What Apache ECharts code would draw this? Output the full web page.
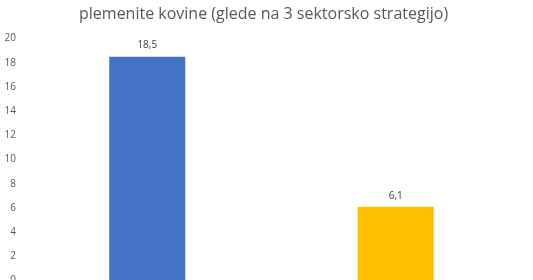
<!DOCTYPE html>
<html><head><meta charset="utf-8">
<script src="https://cdn.jsdelivr.net/npm/echarts@6/dist/echarts.min.js"></script>
<style>html,body{margin:0;padding:0;background:#fff}#c{width:533px;height:280px}</style>
</head><body><div id="c"></div>
<script>
var titleText = 'plemenite kovine (glede na 3 sektorsko strategijo)';
var categories = ['A', 'B'];
var values = [18.5, 6.1];
var colors = ['#4472C4', '#FFC000'];
var yMin = 0, yMax = 20, yStep = 2;

var chart = echarts.init(document.getElementById('c'), null, {renderer: 'canvas'});
chart.setOption({
  animation: false,
  title: {
    text: titleText, left: 74, top: 1,
    textStyle: {fontFamily: 'Open Sans', fontSize: 16, fontWeight: 'normal', color: '#595959'}
  },
  grid: {left: 23, right: 13, top: 38.5, bottom: -0.5, containLabel: false, outerBoundsMode: 'none'},
  xAxis: {
    type: 'category', data: categories,
    axisLine: {show: false}, axisTick: {show: false}, axisLabel: {show: false}, splitLine: {show: false}
  },
  yAxis: {
    type: 'value', min: yMin, max: yMax, interval: yStep,
    axisLine: {show: false}, axisTick: {show: false}, splitLine: {show: false},
    axisLabel: {margin: 7, fontFamily: 'Open Sans', fontSize: 10, color: '#595959'}
  },
  series: [{
    type: 'bar', barWidth: 76,
    data: values.map(function (v, i) { return {value: v, itemStyle: {color: colors[i]}}; }),
    label: {
      show: true, position: 'top', distance: 6,
      fontFamily: 'Open Sans', fontSize: 10, color: '#404040',
      formatter: function (p) { return String(p.value).replace('.', ','); }
    }
  }]
});
</script></body></html>
